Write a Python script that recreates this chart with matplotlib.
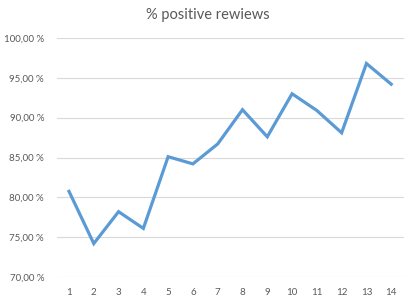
import matplotlib
matplotlib.use("Agg")
import matplotlib.pyplot as plt
from matplotlib.ticker import FuncFormatter

categories = list(range(1, 15))
values = [80.75, 74.2, 78.2, 76.1, 85.1, 84.2, 86.7, 91.0, 87.6, 93.0, 90.9, 88.1, 96.8, 94.2]
y_ticks = [70, 75, 80, 85, 90, 95, 100]
title = "% positive rewiews"

plt.rcParams['font.family'] = ['Lato', 'DejaVu Sans']
text_color = '#595959'

fig = plt.figure(figsize=(4.15, 3.02), dpi=100)
ax = fig.add_axes([56.6/415, (302-277)/302, (403.6-56.6)/415, (277-38)/302])

ax.plot(categories, values, color='#5B9BD5', linewidth=2.3, solid_joinstyle='miter', zorder=3)

ax.set_xlim(0.5, 14.5)
ax.set_ylim(70, 100)
ax.set_yticks(y_ticks)
ax.set_xticks(categories)
ax.yaxis.set_major_formatter(FuncFormatter(lambda v, p: f"{v:.2f}".replace('.', ',') + " %"))
ax.grid(axis='y', color='#D9D9D9', linewidth=0.8, zorder=0)
for s in ax.spines.values():
    s.set_visible(False)
ax.tick_params(axis='both', length=0, labelsize=7, colors=text_color)
ax.tick_params(axis='y', pad=9)
ax.tick_params(axis='x', pad=8)

fig.text(0.5, (302-15)/302, title, ha='center', va='center', fontsize=10.5, color=text_color)

fig.savefig("out.png", dpi=100)
